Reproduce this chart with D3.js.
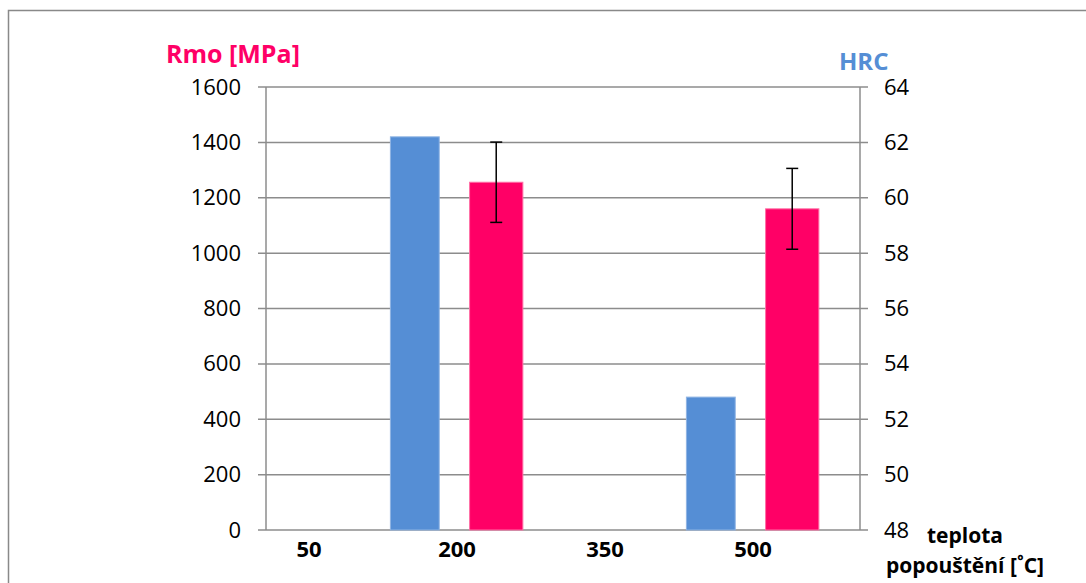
<!DOCTYPE html>
<html>
<head>
<meta charset="utf-8">
<script src="https://cdn.jsdelivr.net/npm/d3@7"></script>
<style>
  html, body { margin: 0; padding: 0; background: #ffffff; }
  svg { display: block; font-family: "Open Sans", "Liberation Sans", sans-serif; }
</style>
</head>
<body>
<svg id="chart" width="1086" height="583"></svg>
<script>
// Tempering temperature categories and measured values
const categories = ["50", "200", "350", "500"];
const hrcValues = [null, 62.2, null, 52.8];        // hardness, right axis
const rmoValues = [null, 1256, null, 1160];        // tensile strength, left axis
const rmoErrors = [null, 145, null, 146];          // ± deviation of Rmo
const rmoTicks = [0, 200, 400, 600, 800, 1000, 1200, 1400, 1600];
const hrcTicks = [48, 50, 52, 54, 56, 58, 60, 62, 64];

const svg = d3.select("#chart");
const gridColor = "#8c8c8c";
const blue = "#558ED5";
const pink = "#FF0066";
const fontFam = "'Open Sans', sans-serif";

const plot = { left: 266, right: 860, top: 87, bottom: 530 };

// outer frame
svg.append("rect")
  .attr("x", 8.5).attr("y", 10.5)
  .attr("width", 1100).attr("height", 600)
  .attr("fill", "#fff").attr("stroke", "#898989").attr("stroke-width", 1.5);

const yLeft = d3.scaleLinear().domain([0, 1600]).range([plot.bottom, plot.top]);
const yRight = d3.scaleLinear().domain([48, 64]).range([plot.bottom, plot.top]);
const x = d3.scaleBand().domain(categories).range([235, 827]);
const bw = x.bandwidth();

// horizontal gridlines
svg.append("g").selectAll("line")
  .data(rmoTicks)
  .join("line")
  .attr("x1", plot.left - 8).attr("x2", plot.right + 8)
  .attr("y1", d => yLeft(d)).attr("y2", d => yLeft(d))
  .attr("stroke", gridColor).attr("stroke-width", 1.5);

// vertical axis lines
[plot.left, plot.right].forEach(px => {
  svg.append("line")
    .attr("x1", px).attr("x2", px)
    .attr("y1", plot.top).attr("y2", plot.bottom)
    .attr("stroke", gridColor).attr("stroke-width", 1.5);
});

// left axis labels
const leftAxis = d3.axisLeft(yLeft).tickValues(rmoTicks).tickFormat(d3.format("d"))
  .tickSize(0).tickPadding(25);
const gl = svg.append("g").attr("transform", `translate(${plot.left},0)`).call(leftAxis);
gl.select(".domain").remove();
gl.selectAll("text").attr("font-size", 22).attr("fill", "#000").attr("font-family", fontFam);

// right axis labels
const rightAxis = d3.axisRight(yRight).tickValues(hrcTicks).tickFormat(d3.format("d"))
  .tickSize(0).tickPadding(24);
const gr = svg.append("g").attr("transform", `translate(${plot.right},0)`).call(rightAxis);
gr.select(".domain").remove();
gr.selectAll("text").attr("font-size", 22).attr("fill", "#000").attr("font-family", fontFam);

// category labels
const bottomAxis = d3.axisBottom(x).tickSize(0).tickPadding(11);
const gb = svg.append("g").attr("transform", `translate(0,${plot.bottom})`).call(bottomAxis);
gb.select(".domain").remove();
gb.selectAll("text").attr("font-size", 22).attr("font-weight", "bold").attr("fill", "#000")
  .attr("font-family", fontFam);

const rows = categories.map((c, i) => ({ c, hrc: hrcValues[i], rmo: rmoValues[i], err: rmoErrors[i] }));

// HRC bars (right axis)
svg.append("g").selectAll("rect")
  .data(rows.filter(d => d.hrc != null))
  .join("rect")
  .attr("x", d => x(d.c) + bw * 0.05)
  .attr("width", bw * 0.33)
  .attr("y", d => yRight(d.hrc))
  .attr("height", d => yRight(48) - yRight(d.hrc))
  .attr("fill", blue).attr("stroke", "#8fb4e3").attr("stroke-width", 1);

// Rmo bars (left axis)
svg.append("g").selectAll("rect")
  .data(rows.filter(d => d.rmo != null))
  .join("rect")
  .attr("x", d => x(d.c) + bw * 0.585)
  .attr("width", bw * 0.36)
  .attr("y", d => yLeft(d.rmo))
  .attr("height", d => yLeft(0) - yLeft(d.rmo))
  .attr("fill", pink).attr("stroke", "#ff6fa6").attr("stroke-width", 1);

// error bars on Rmo
const eb = svg.append("g").selectAll("g")
  .data(rows.filter(d => d.rmo != null))
  .join("g")
  .attr("transform", d => `translate(${x(d.c) + bw * (0.585 + 0.18)},0)`);
eb.append("line")
  .attr("y1", d => yLeft(d.rmo + d.err)).attr("y2", d => yLeft(d.rmo - d.err))
  .attr("stroke", "#000").attr("stroke-width", 1.5);
eb.append("line").attr("x1", -6).attr("x2", 6)
  .attr("y1", d => yLeft(d.rmo + d.err)).attr("y2", d => yLeft(d.rmo + d.err))
  .attr("stroke", "#000").attr("stroke-width", 1.5);
eb.append("line").attr("x1", -6).attr("x2", 6)
  .attr("y1", d => yLeft(d.rmo - d.err)).attr("y2", d => yLeft(d.rmo - d.err))
  .attr("stroke", "#000").attr("stroke-width", 1.5);

// axis titles
svg.append("text").attr("x", 166).attr("y", 63)
  .attr("font-size", 25).attr("font-weight", "bold").attr("fill", pink)
  .text("Rmo [MPa]");
svg.append("text").attr("x", 839).attr("y", 70)
  .attr("font-size", 24).attr("font-weight", "bold").attr("fill", blue)
  .text("HRC");
svg.append("text").attr("x", 965).attr("y", 543).attr("text-anchor", "middle")
  .attr("font-size", 21).attr("font-weight", "bold").attr("fill", "#000")
  .text("teplota");
svg.append("text").attr("x", 965).attr("y", 573).attr("text-anchor", "middle")
  .attr("font-size", 21).attr("font-weight", "bold").attr("fill", "#000")
  .text("popouštění [˚C]");
</script>
</body>
</html>
